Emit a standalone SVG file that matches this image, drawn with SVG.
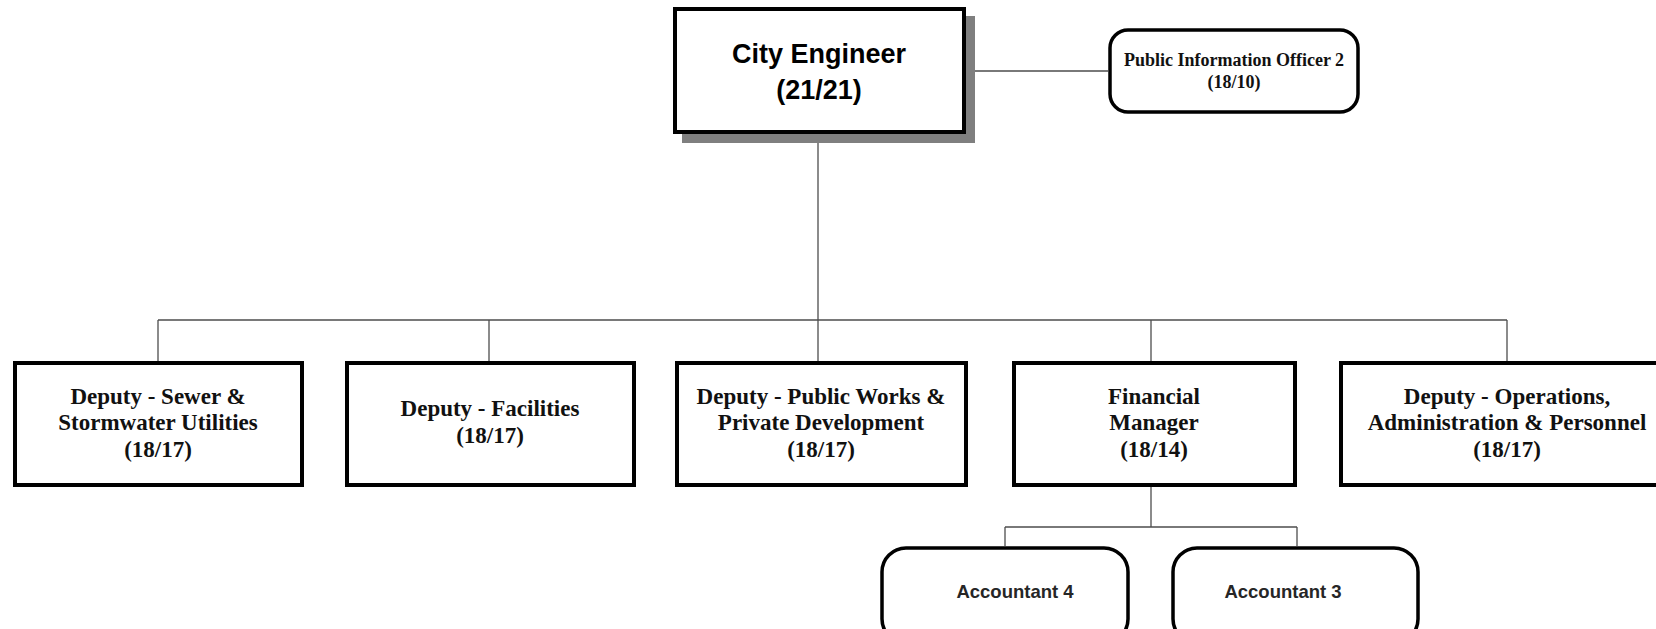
<svg xmlns="http://www.w3.org/2000/svg" width="1656" height="629" viewBox="0 0 1656 629">
<style>
.bg{fill:#ffffff}
.box{fill:#ffffff;stroke:#000000;stroke-width:4}
.rbox{fill:#ffffff;stroke:#000000;stroke-width:3.5}
.shadow{fill:#7f7f7f}
.conn{fill:none;stroke:#4d4d4d;stroke-width:1.3}
.t{font-family:"Liberation Serif","Times New Roman",serif;font-weight:bold;font-size:23px;fill:#111111;text-anchor:middle}
.tp{font-family:"Liberation Serif","Times New Roman",serif;font-weight:bold;font-size:18px;fill:#111111;text-anchor:middle}
.ts{font-family:"Liberation Sans",Arial,sans-serif;font-weight:bold;font-size:27px;fill:#000000;text-anchor:middle}
.ta{font-family:"Liberation Sans",Arial,sans-serif;font-weight:bold;font-size:18.5px;fill:#262626;text-anchor:middle}
</style>
<rect class="bg" x="0" y="0" width="1656" height="629"/>
<g id="connectors">
<line class="conn" x1="966" y1="71" x2="1108" y2="71"/>
<line class="conn" x1="818" y1="134" x2="818" y2="320"/>
<line class="conn" x1="158" y1="320" x2="1507" y2="320"/>
<line class="conn" x1="158" y1="320" x2="158" y2="361"/>
<line class="conn" x1="489" y1="320" x2="489" y2="361"/>
<line class="conn" x1="818" y1="320" x2="818" y2="361"/>
<line class="conn" x1="1151" y1="320" x2="1151" y2="361"/>
<line class="conn" x1="1507" y1="320" x2="1507" y2="361"/>
<line class="conn" x1="1151" y1="487" x2="1151" y2="527"/>
<line class="conn" x1="1005" y1="527" x2="1297" y2="527"/>
<line class="conn" x1="1005" y1="527" x2="1005" y2="546"/>
<line class="conn" x1="1297" y1="527" x2="1297" y2="546"/>
</g>
<g id="city-engineer">
<rect class="shadow" x="682" y="16" width="293" height="127"/>
<rect class="box" x="675" y="9" width="289" height="123"/>
<text class="ts" x="819" y="63">City Engineer</text>
<text class="ts" x="819" y="99">(21/21)</text>
</g>
<g id="pio">
<rect class="rbox" x="1110" y="30" width="248" height="82" rx="18" ry="18"/>
<text class="tp" x="1234" y="66">Public Information Officer 2</text>
<text class="tp" x="1234" y="88">(18/10)</text>
</g>
<g id="deputy-sewer">
<rect class="box" x="15" y="363" width="287" height="122"/>
<text class="t" x="158" y="404">Deputy - Sewer &amp;</text>
<text class="t" x="158" y="430">Stormwater Utilities</text>
<text class="t" x="158" y="457">(18/17)</text>
</g>
<g id="deputy-facilities">
<rect class="box" x="347" y="363" width="287" height="122"/>
<text class="t" x="490" y="416">Deputy - Facilities</text>
<text class="t" x="490" y="443">(18/17)</text>
</g>
<g id="deputy-public-works">
<rect class="box" x="677" y="363" width="289" height="122"/>
<text class="t" x="821" y="404">Deputy - Public Works &amp;</text>
<text class="t" x="821" y="430">Private Development</text>
<text class="t" x="821" y="457">(18/17)</text>
</g>
<g id="financial-manager">
<rect class="box" x="1014" y="363" width="281" height="122"/>
<text class="t" x="1154" y="404">Financial</text>
<text class="t" x="1154" y="430">Manager</text>
<text class="t" x="1154" y="457">(18/14)</text>
</g>
<g id="deputy-operations">
<rect class="box" x="1341" y="363" width="331" height="122"/>
<text class="t" x="1507" y="404">Deputy - Operations,</text>
<text class="t" x="1507" y="430">Administration &amp; Personnel</text>
<text class="t" x="1507" y="457">(18/17)</text>
</g>
<g id="accountant-4">
<rect class="rbox" x="882" y="548" width="246" height="95" rx="24" ry="24"/>
<text class="ta" x="1015" y="598">Accountant 4</text>
</g>
<g id="accountant-3">
<rect class="rbox" x="1173" y="548" width="245" height="95" rx="24" ry="24"/>
<text class="ta" x="1283" y="598">Accountant 3</text>
</g>
</svg>
